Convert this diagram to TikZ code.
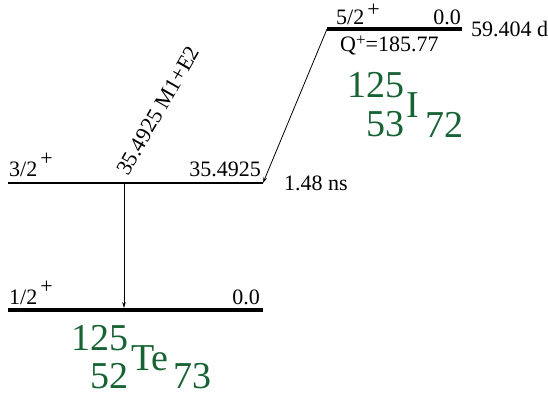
\documentclass[tikz,border=0pt]{standalone}
\usepackage{fontspec}
\setmainfont{Liberation Serif}
\usetikzlibrary{arrows.meta,positioning}
\definecolor{nucgreen}{RGB}{24,99,52}
\newcommand{\lblfont}{\fontsize{22}{26}\selectfont}
\newcommand{\nucfont}{\fontsize{38}{44}\selectfont}
\newcommand{\spinplus}[1][11.5pt]{\hspace{3pt}\raisebox{#1}{+}}
\tikzset{
    lvl/.style={line width=2.3pt},
    gslvl/.style={line width=3.5pt},
    trans/.style={line width=0.8pt, -{Stealth[length=6pt,width=3.6pt]}},
    lbl/.style={font=\lblfont, inner sep=0pt},
    nuc/.style={font=\nucfont, text=nucgreen, inner sep=0pt}
}
\begin{document}
\begin{tikzpicture}[x=1pt,y=1pt]
\useasboundingbox (0,0) rectangle (548,396);

% Levels
\coordinate (TopL) at (327,367);
\coordinate (TopR) at (462,367);
\coordinate (MidL) at (8,213);
\coordinate (MidR) at (263,213);
\coordinate (GndL) at (8,86);
\coordinate (GndR) at (263,86);
\draw[gslvl] (TopL) -- (TopR);
\draw[lvl] (MidL) -- (MidR);
\draw[gslvl] (GndL) -- (GndR);

% Transitions
\coordinate (MidG) at (124,213);
\coordinate (GndG) at (124,88);
\draw[trans] (TopL) -- (MidR);
\draw[trans] (MidG) -- (GndG);
\node[lbl, anchor=base west, rotate=60] (gamLbl) at (128,219) {35.4925 M1+E2};

% Level labels
\node[lbl, anchor=base west] (spinTop) at (336,371) {5/2\spinplus[8.5pt]};
\node[lbl, anchor=base east] (enTop) at (461,371) {0.0};
\node[lbl, anchor=base west] (hlTop) at (471,359) {59.404 d};
\node[lbl, anchor=base west] (qTop) at (340,344) {Q\raisebox{6pt}{\fontsize{17}{17}\selectfont +}=185.77};
\node[lbl, anchor=base west] (spinMid) at (9,219) {3/2\spinplus};
\node[lbl, anchor=base east] (enMid) at (261,219) {35.4925};
\node[lbl, anchor=base west] (hlMid) at (284,205) {1.48 ns};
\node[lbl, anchor=base west] (spinGnd) at (9,91) {1/2\spinplus};
\node[lbl, anchor=base east] (enGnd) at (260,91) {0.0};

% Nuclides
\node[nuc, anchor=base west] (iodine) at (406,278) {I};
\node[nuc, anchor=base east] (iodineA) at ([xshift=-1pt,yshift=20pt]iodine.base west) {125};
\node[nuc, anchor=base east] (iodineZ) at ([xshift=-1pt,yshift=-19pt]iodine.base west) {53};
\node[nuc, anchor=base west] (iodineN) at ([xshift=6pt,yshift=-20pt]iodine.base east) {72};
\node[nuc, anchor=base west] (tellur) at (131,26) {Te};
\node[nuc, anchor=base east] (tellurA) at ([xshift=-2pt,yshift=20pt]tellur.base west) {125};
\node[nuc, anchor=base east] (tellurZ) at ([xshift=-2pt,yshift=-18pt]tellur.base west) {52};
\node[nuc, anchor=base west] (tellurN) at ([xshift=4pt,yshift=-18pt]tellur.base east) {73};

\end{tikzpicture}
\end{document}
